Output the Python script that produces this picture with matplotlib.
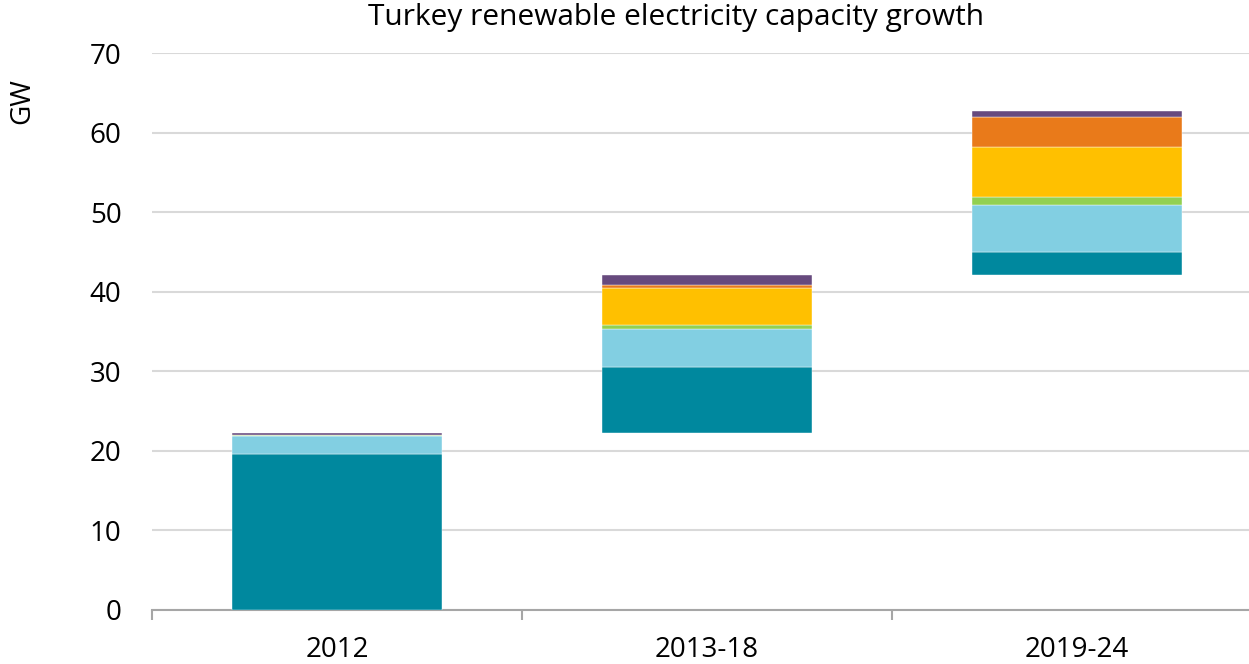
import numpy as np
import matplotlib
matplotlib.use('Agg')
import matplotlib.pyplot as plt

plt.rcParams['font.family'] = ['Open Sans', 'DejaVu Sans']

# Data (GW)
periods = ['2012', '2013-18', '2019-24']
hydro = [19.64, 8.38, 2.97]
wind = [2.27, 4.78, 5.91]
bio = [0.12, 0.50, 0.92]
solar_util = [0.01, 4.57, 6.37]
solar_dist = [0.00, 0.46, 3.69]
geo = [0.16, 1.17, 0.75]

series = [hydro, wind, bio, solar_util, solar_dist, geo]
colors = ['#00889E', '#82CFE2', '#92D050', '#FFC000', '#E97A1A', '#674A7E']

def main():
	fig = plt.figure(figsize=(12.49, 6.64), dpi=100)
	ax = fig.add_axes([152/1249, 54/664, 1 - 152/1249, (610-53)/664])

	x = np.arange(len(periods))
	totals = np.sum(np.array(series), axis=0)
	# waterfall: each period starts where the previous one ended
	base = np.concatenate([[0], np.cumsum(totals)[:-1]])

	bottom = base.copy()
	for vals, col in zip(series, colors):
		ax.bar(x, vals, width=0.57, bottom=bottom, color=col,
			edgecolor='white', linewidth=0.3, zorder=3)
		bottom = bottom + np.array(vals)

	ax.set_yticks(range(0, 71, 10))
	ax.yaxis.grid(True, color='#d9d9d9', linewidth=1.5, zorder=0)
	ax.tick_params(axis='y', length=0, pad=22, labelsize=20)

	ax.set_xticks(x)
	ax.set_xticklabels(periods)
	ax.set_xticks([-0.5, 0.5, 1.5, 2.5], minor=True)
	ax.tick_params(axis='x', which='major', length=0, pad=19, labelsize=20)
	ax.tick_params(axis='x', which='minor', length=7, width=1.5, color='#a6a6a6')
	ax.set_ylim(0, 70)
	ax.set_xlim(-0.5, 2.465)

	for s in ['top', 'right', 'left']:
		ax.spines[s].set_visible(False)
	ax.spines['bottom'].set_color('#a6a6a6')
	ax.spines['bottom'].set_linewidth(1.5)

	fig.text(676/1249, 1 - 17/664, 'Turkey renewable electricity capacity growth',
		ha='center', va='center', fontsize=21.5)
	fig.text(22/1249, 1 - 101/664, 'GW', rotation=90, ha='center', va='center', fontsize=20)

	plt.savefig('out.png', dpi=100)
	plt.close()

if __name__ == '__main__':
	main()
